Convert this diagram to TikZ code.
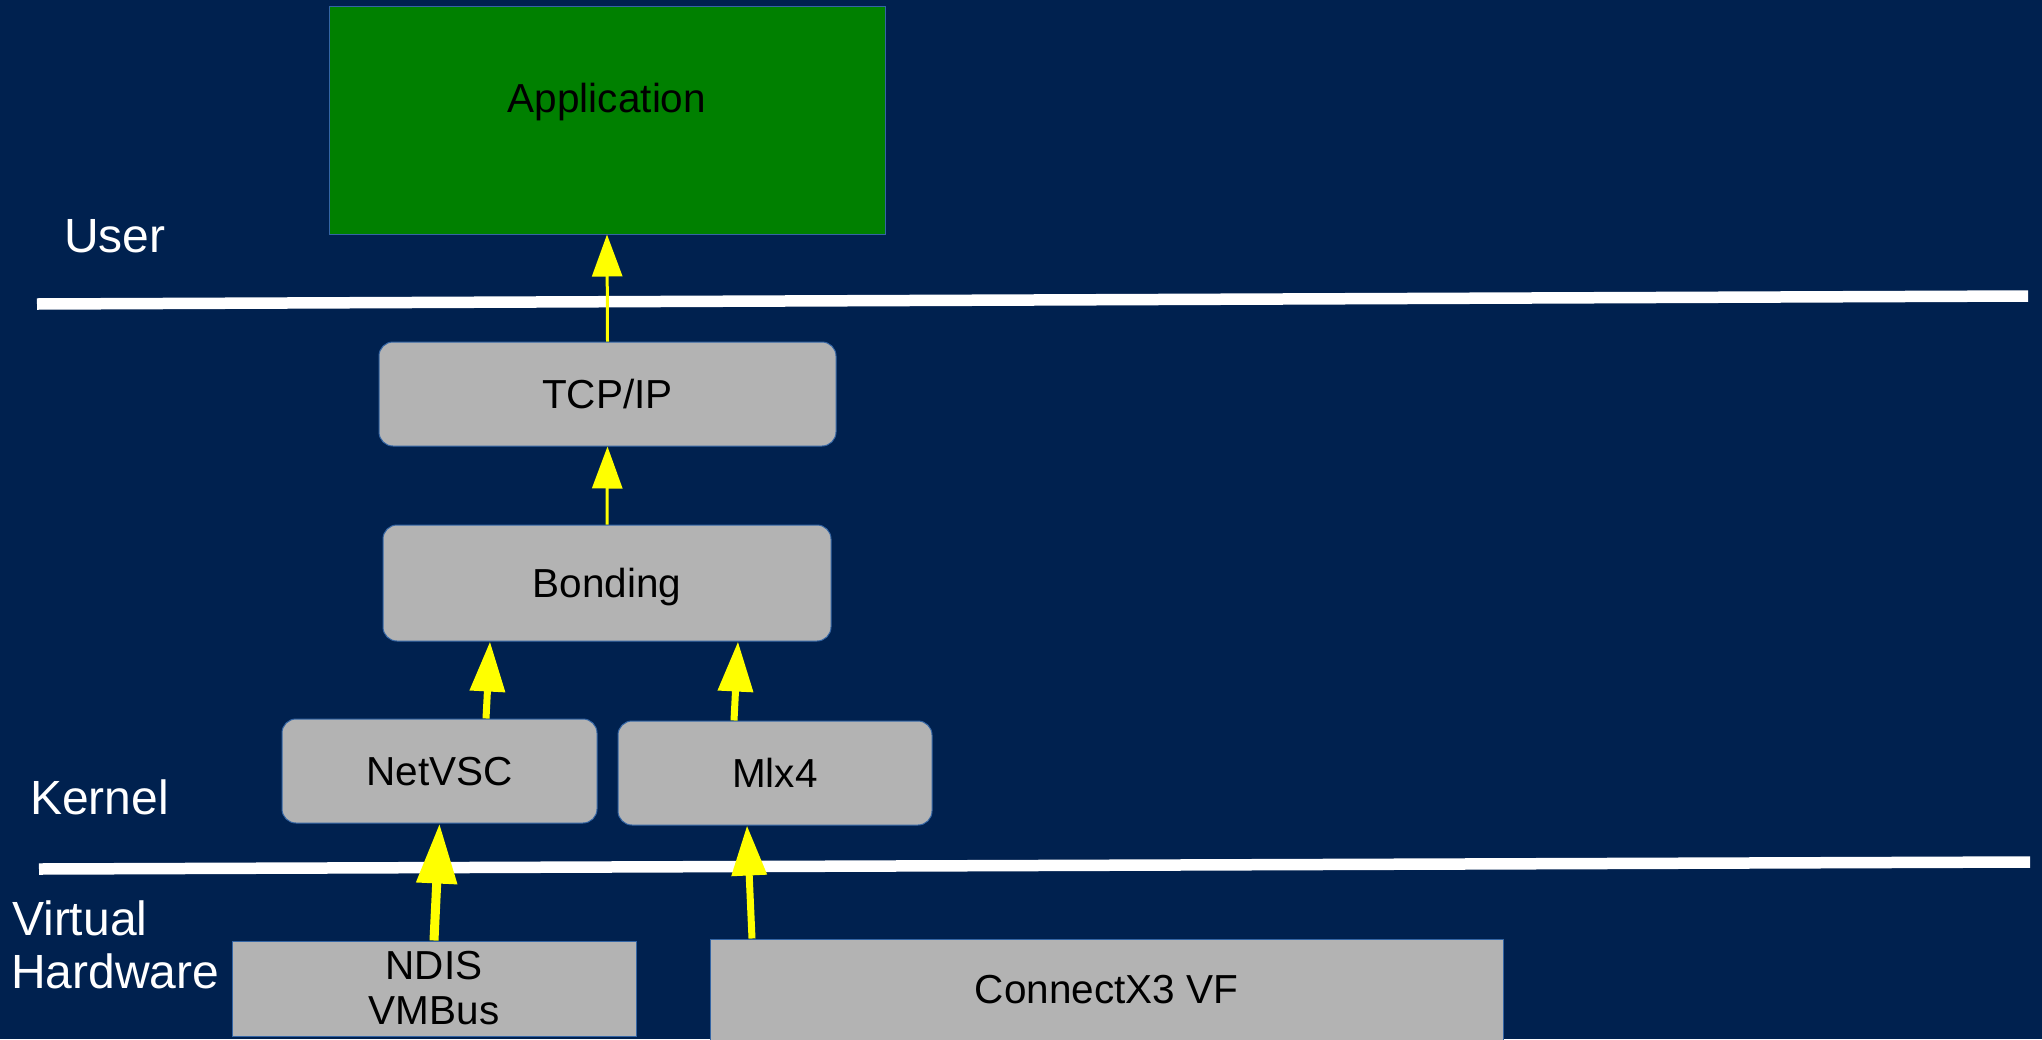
\documentclass[tikz,border=0pt]{standalone}
\usepackage{fontspec}
\setmainfont{Liberation Sans}
\usetikzlibrary{arrows.meta}
\definecolor{bgnavy}{RGB}{0,33,79}
\definecolor{appgreen}{RGB}{0,128,0}
\definecolor{boxgray}{RGB}{179,179,179}
\definecolor{boxedge}{RGB}{52,101,164}
\definecolor{arrowyellow}{RGB}{255,255,0}
\tikzset{
  boxtext/.style={font=\fontsize{40.5}{45}\selectfont, text=black},
  rbox/.style={boxtext, draw=boxedge, line width=1pt, fill=boxgray, rounded corners=14pt, inner sep=0pt, text height=29pt, text depth=0pt},
  sbox/.style={boxtext, draw=boxedge, line width=1pt, fill=boxgray, inner sep=0pt, align=center},
  sidelabel/.style={font=\fontsize{48}{54}\selectfont, text=white, anchor=base west, inner sep=0pt},
  sepline/.style={white, line width=11.5pt},
  thinarr/.style={arrowyellow, line width=3pt, -{Triangle[length=42pt,width=30pt]}},
  midarr/.style={arrowyellow, line width=7pt, -{Triangle[length=50pt,width=34pt]}},
  bigarr/.style={arrowyellow, line width=9pt, -{Triangle[length=60pt,width=39pt]}},
}
\begin{document}
\begin{tikzpicture}[x=1pt,y=-1pt]
\useasboundingbox (0,0) rectangle (2042,1039);
\clip (0,0) rectangle (2042,1039);
\fill[bgnavy] (0,0) rectangle (2042,1039);

% separators
\draw[sepline] (37,304) -- (2028,296);
\draw[sepline] (39,869) -- (2030,862);

% side labels
\node[sidelabel] (user) at (64,252) {User};
\node[sidelabel] (kernel) at (30,814) {Kernel};
\node[sidelabel] (virtual) at (12,935) {Virtual};
\node[sidelabel] (hardware) at (11,988) {Hardware};

% boxes
\node[boxtext, draw=boxedge, line width=1pt, fill=appgreen, inner sep=0pt,
      minimum width=556pt, minimum height=228pt, text height=28pt, text depth=44pt]
      (app) at (607,120) {Application};
\node[rbox, minimum width=457pt, minimum height=104pt] (tcp) at (607.5,394) {TCP/IP};
\node[rbox, minimum width=448pt, minimum height=116pt] (bond) at (607,583) {Bonding};
\node[rbox, minimum width=315pt, minimum height=104pt] (netvsc) at (439.5,771) {NetVSC};
\node[rbox, minimum width=314pt, minimum height=104pt] (mlx) at (775,773) {Mlx4};
\node[sbox, minimum width=404pt, minimum height=95pt] (ndis) at (434,988.5) {NDIS\\VMBus};
\node[sbox, minimum width=793pt, minimum height=102pt] (cx) at (1106.5,990) {ConnectX3 VF};

% arrows
\draw[thinarr] (tcp.north) -- (app.south);
\draw[thinarr] (bond.north) -- (tcp.south);
\draw[midarr] ([xshift=46.5pt]netvsc.north) -- ([xshift=-117pt]bond.south);
\draw[midarr] ([xshift=-41pt]mlx.north) -- ([xshift=131pt]bond.south);
\draw[bigarr] (ndis.north) -- (netvsc.south);
\draw[midarr] ([xshift=-354.5pt]cx.north) -- ([xshift=-28pt]mlx.south);
\end{tikzpicture}
\end{document}
